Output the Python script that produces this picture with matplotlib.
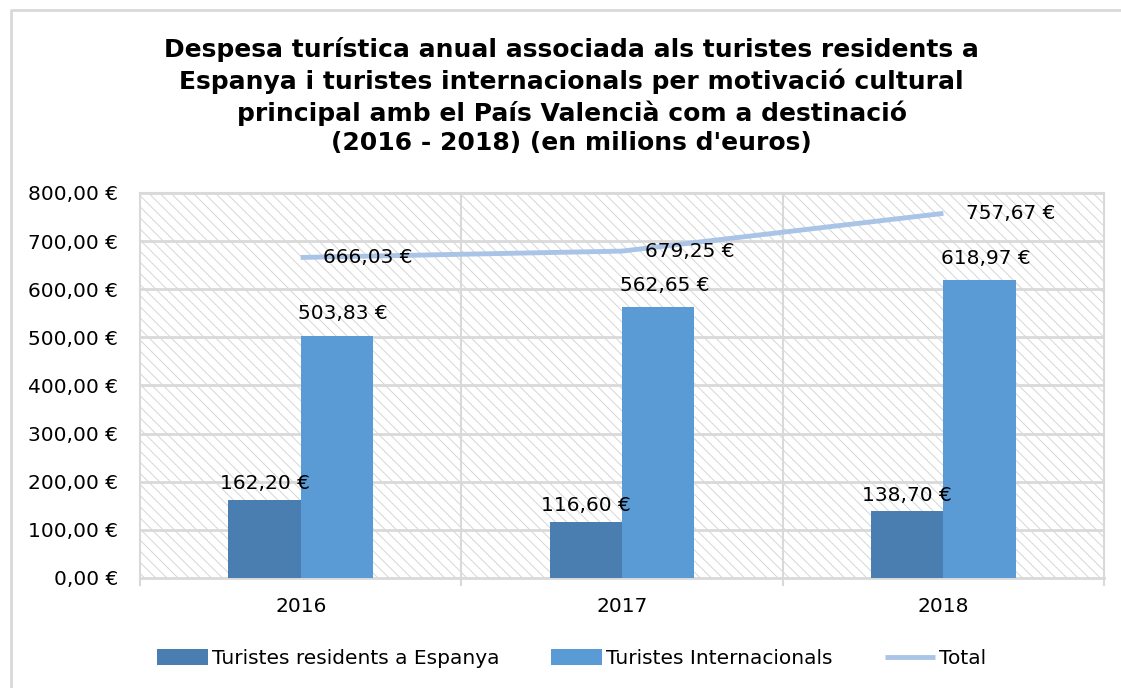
import numpy as np
import matplotlib.pyplot as plt
from matplotlib.patches import Rectangle
from matplotlib.lines import Line2D

# Data
years = ['2016', '2017', '2018']
residents = [162.20, 116.60, 138.70]
internacionals = [503.83, 562.65, 618.97]
total = [666.03, 679.25, 757.67]
ytick_vals = [0, 100, 200, 300, 400, 500, 600, 700, 800]

def eur(v):
    return f"{v:,.2f} €".replace(',', 'X').replace('.', ',').replace('X', '.')

plt.rcParams['font.family'] = ['DejaVu Sans']
plt.rcParams['hatch.linewidth'] = 0.7
plt.rcParams['hatch.color'] = '#d6d6d6'

fig = plt.figure(figsize=(11.21, 6.88), dpi=100)
ax = fig.add_axes([0.1249, 0.1599, 0.8600, 0.5596])

# outer chart border (left and top edges only are visible)
fig.lines.append(Line2D([0.010, 0.010, 1.0], [0.0, 0.985, 0.985], transform=fig.transFigure,
                        color='#d9d9d9', linewidth=2))

# hatched plot background
ax.add_patch(Rectangle((0, 0), 1, 1, transform=ax.transAxes, facecolor='white',
                       hatch='\\' * 3, edgecolor='#d6d6d6', linewidth=0, zorder=0))

x = np.arange(len(years))
w = 0.225
b1 = ax.bar(x - w / 2, residents, w, color='#4a7eb0', label='Turistes residents a Espanya', zorder=3)
b2 = ax.bar(x + w / 2, internacionals, w, color='#5b9bd5', label='Turistes Internacionals', zorder=3)
l1, = ax.plot(x, total, color='#a9c4e6', linewidth=3.5, label='Total', zorder=4,
              solid_capstyle='butt')

fs = 14.5
# data labels
for i in range(len(years)):
    ax.text(x[i] - w / 2, residents[i] + 14, eur(residents[i]), ha='center', va='bottom',
            fontsize=fs, zorder=5)
    ax.text(x[i] + w / 2 + 0.02, internacionals[i] + 25, eur(internacionals[i]), ha='center',
            va='bottom', fontsize=fs, zorder=5)
    ax.text(x[i] + 0.07, total[i], eur(total[i]), ha='left', va='center',
            fontsize=fs, zorder=5)

ax.set_xlim(-0.5, 2.5)
ax.set_ylim(0, 800)
ax.set_yticks(ytick_vals)
ax.set_yticklabels([eur(v) for v in ytick_vals], fontsize=fs)
ax.set_xticks(x)
ax.set_xticklabels(years, fontsize=fs)
ax.tick_params(axis='y', length=0, pad=16)
ax.tick_params(axis='x', length=0, pad=14)

# grid lines
for v in ytick_vals[1:]:
    ax.axhline(v, color='#d9d9d9', linewidth=2, zorder=1)
for b in [0.5, 1.5]:
    ax.axvline(b, color='#d9d9d9', linewidth=1.5, zorder=1)
# category boundary ticks below axis
for b in [-0.5, 0.5, 1.5, 2.5]:
    ax.plot([b, b], [0, -14], color='#d9d9d9', linewidth=1.5, clip_on=False, zorder=1)

for s in ['top', 'right', 'left']:
    ax.spines[s].set_color('#d9d9d9')
    ax.spines[s].set_linewidth(1.5)
ax.spines['bottom'].set_color('#d9d9d9')
ax.spines['bottom'].set_linewidth(2)

fig.text(0.51, 0.86, "Despesa turística anual associada als turistes residents a\n"
         "Espanya i turistes internacionals per motivació cultural\n"
         "principal amb el País Valencià com a destinació\n"
         "(2016 - 2018) (en milions d'euros)",
         ha='center', va='center', fontsize=18, fontweight='bold', linespacing=1.3)

fig.legend(handles=[b1, b2, l1], loc='center', bbox_to_anchor=(0.51, 0.043), ncol=3,
           frameon=False, fontsize=fs, handlelength=2.5, handleheight=0.8,
           columnspacing=2.6, handletextpad=0.2)

fig.savefig('out.png', dpi=100, facecolor='white')
